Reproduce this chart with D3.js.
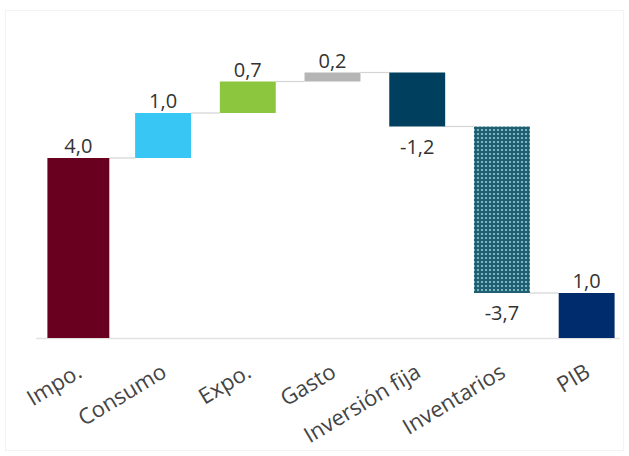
<!DOCTYPE html>
<html>
<head>
<meta charset="utf-8">
<script src="https://cdn.jsdelivr.net/npm/d3@7"></script>
<style>
  html, body { margin: 0; padding: 0; background: #fff; }
  svg { display: block; }
</style>
</head>
<body>
<svg id="chart" width="629" height="456"></svg>
<script>
// ---- data ----
const categories = ["Impo.", "Consumo", "Expo.", "Gasto", "Inversión fija", "Inventarios", "PIB"];
const values = [4.0, 1.0, 0.7, 0.2, -1.2, -3.7, 1.0];
const isTotal = [false, false, false, false, false, false, true];
const labels = ["4,0", "1,0", "0,7", "0,2", "-1,2", "-3,7", "1,0"];
const colors = ["#6a0020", "#38c6f4", "#8cc63f", "#b5b5b5", "#003f5e", "url(#dots)", "#002c6e"];

// ---- build waterfall steps ----
let run = 0;
const steps = categories.map((c, i) => {
  let y0, y1;
  if (isTotal[i]) { y0 = 0; y1 = values[i]; run = values[i]; }
  else { y0 = run; y1 = run + values[i]; run = y1; }
  return { cat: c, v: values[i], y0, y1, lo: Math.min(y0, y1), hi: Math.max(y0, y1), label: labels[i], color: colors[i], i };
});

const svg = d3.select("#chart");
const defs = svg.append("defs");
const pat = defs.append("pattern").attr("id", "dots").attr("patternUnits", "userSpaceOnUse")
  .attr("width", 4).attr("height", 4);
pat.append("rect").attr("width", 4).attr("height", 4).attr("fill", "#1f5f70");
pat.append("circle").attr("cx", 2).attr("cy", 2).attr("r", 1.1).attr("fill", "#8fcbd8");

// faint frame
svg.append("rect").attr("x", 5.5).attr("y", 10.5).attr("width", 618).attr("height", 440)
  .attr("fill", "none").attr("stroke", "#f3f3f3");

const x = d3.scaleBand().domain(categories).range([36, 629]).paddingInner(0.34).paddingOuter(0.17);
const y = d3.scaleLinear().domain([0, 6]).range([338, 68]);

// baseline
svg.append("line").attr("x1", 36).attr("x2", 620).attr("y1", y(0) + 0.5).attr("y2", y(0) + 0.5)
  .attr("stroke", "#e2e2e2").attr("stroke-width", 1.5);

// connectors
for (let k = 0; k < steps.length - 1; k++) {
  const lvl = steps[k].y1;
  svg.append("line")
    .attr("x1", x(steps[k].cat) + x.bandwidth() + (k === 0 ? 3 : 0))
    .attr("x2", x(steps[k + 1].cat))
    .attr("y1", y(lvl)).attr("y2", y(lvl))
    .attr("stroke", "#d4d4d4").attr("stroke-width", 1.2);
}

// bars
svg.selectAll("rect.bar").data(steps).enter().append("rect")
  .attr("class", "bar")
  .attr("x", d => x(d.cat) - (d.i === 0 ? 3 : 0))
  .attr("width", d => x.bandwidth() + (d.i === 0 ? 6 : 0))
  .attr("y", d => y(d.hi))
  .attr("height", d => Math.max(1, y(d.lo) - y(d.hi)))
  .attr("fill", d => d.color);

// value labels
svg.selectAll("text.val").data(steps).enter().append("text")
  .attr("class", "val")
  .attr("x", d => x(d.cat) + x.bandwidth() / 2)
  .attr("y", d => d.v >= 0 ? y(d.hi) - 5 : y(d.lo) + 27)
  .attr("text-anchor", "middle")
  .attr("font-family", "'Open Sans', 'Noto Sans', sans-serif")
  .attr("font-size", 20)
  .attr("fill", "#333")
  .text(d => d.label);

// category labels
svg.selectAll("text.cat").data(steps).enter().append("text")
  .attr("class", "cat")
  .attr("transform", d => `translate(${x(d.cat) + x.bandwidth() / 2 + 5},${376}) rotate(-31)`)
  .attr("text-anchor", "end")
  .attr("font-family", "'Open Sans', 'Noto Sans', sans-serif")
  .attr("font-size", 22)
  .attr("fill", "#444")
  .text(d => d.cat);
</script>
</body>
</html>
